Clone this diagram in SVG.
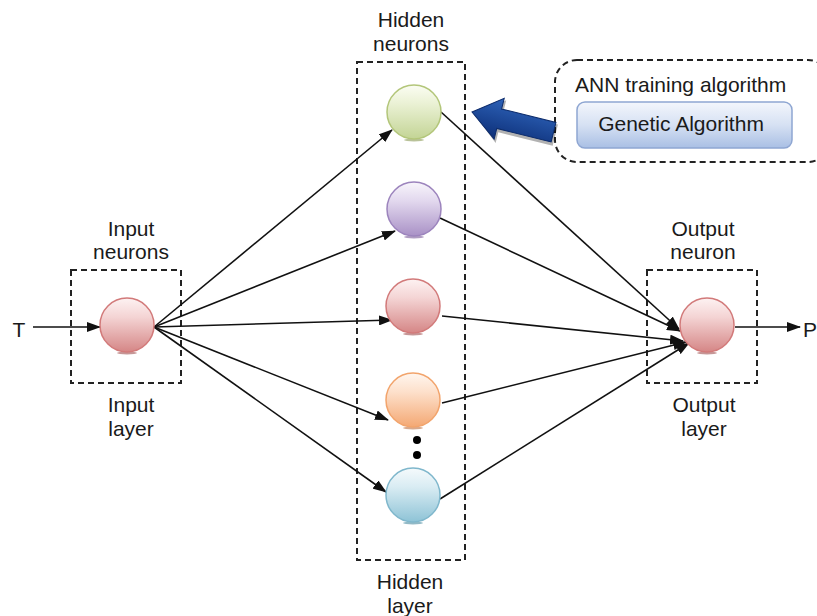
<svg xmlns="http://www.w3.org/2000/svg" width="817" height="616" viewBox="0 0 817 616">
<style>
.lbl{font-family:"Liberation Sans",Arial,sans-serif;font-size:21px;fill:#1a1a1a;text-anchor:middle}
.box{fill:none;stroke:#222;stroke-width:2;stroke-dasharray:6,4}
.con{stroke:#111;stroke-width:1.6;fill:none;marker-end:url(#ah)}
</style>
<defs>
<marker id="ah" markerUnits="userSpaceOnUse" markerWidth="14" markerHeight="10" refX="13" refY="5" orient="auto">
<path d="M0,0 L14,5 L0,10 z" fill="#111"/>
</marker>
<linearGradient id="gRed" x1="0" y1="0" x2="0" y2="1"><stop offset="0" stop-color="#fdf2f2"/><stop offset="0.35" stop-color="#f4d4d4"/><stop offset="1" stop-color="#d58686"/></linearGradient>
<linearGradient id="gGreen" x1="0" y1="0" x2="0" y2="1"><stop offset="0" stop-color="#fbfdf3"/><stop offset="0.35" stop-color="#eaf1d4"/><stop offset="1" stop-color="#c3d495"/></linearGradient>
<linearGradient id="gPurple" x1="0" y1="0" x2="0" y2="1"><stop offset="0" stop-color="#f8f5fb"/><stop offset="0.35" stop-color="#e2d8ee"/><stop offset="1" stop-color="#a991c6"/></linearGradient>
<linearGradient id="gOrange" x1="0" y1="0" x2="0" y2="1"><stop offset="0" stop-color="#fff6ef"/><stop offset="0.35" stop-color="#fde0cb"/><stop offset="1" stop-color="#f4a873"/></linearGradient>
<linearGradient id="gBlue" x1="0" y1="0" x2="0" y2="1"><stop offset="0" stop-color="#f5fafc"/><stop offset="0.35" stop-color="#d9ecf3"/><stop offset="1" stop-color="#8ec3d6"/></linearGradient>
<linearGradient id="gBtn" x1="0" y1="0" x2="0" y2="1"><stop offset="0" stop-color="#f3f6fc"/><stop offset="0.5" stop-color="#d6e1f3"/><stop offset="1" stop-color="#a9bfe4"/></linearGradient>
<linearGradient id="gArrow" x1="0" y1="0" x2="0" y2="1"><stop offset="0" stop-color="#2d62b8"/><stop offset="1" stop-color="#0d2f78"/></linearGradient>
</defs>

<g id="layer-boxes">
<rect class="box" x="71" y="270" width="110" height="113"/>
<rect class="box" x="357" y="62" width="108" height="498"/>
<rect class="box" x="647" y="270" width="110" height="113"/>
</g>

<g id="connectors">
<line class="con" x1="33" y1="327" x2="100" y2="327"/>
<line class="con" x1="154" y1="327" x2="392" y2="130"/>
<line class="con" x1="154" y1="327" x2="395" y2="231"/>
<line class="con" x1="154" y1="327" x2="392" y2="320"/>
<line class="con" x1="154" y1="327" x2="388" y2="420"/>
<line class="con" x1="154" y1="327" x2="386" y2="492"/>
<line class="con" x1="441" y1="112" x2="679" y2="329"/>
<line class="con" x1="440" y1="218" x2="680" y2="331"/>
<line class="con" x1="442" y1="316" x2="683" y2="341"/>
<line class="con" x1="442" y1="403" x2="686" y2="342"/>
<line class="con" x1="440" y1="499" x2="689" y2="343"/>
<line class="con" x1="735" y1="327" x2="800" y2="327"/>
</g>

<g id="input-neuron">
<ellipse cx="127" cy="353" rx="10" ry="1.5" fill="#a05050" opacity="0.6"/>
<circle cx="127" cy="325" r="27" fill="url(#gRed)" stroke="#d27a7a" stroke-width="1.5"/>
</g>
<g id="hidden-neuron-1">
<ellipse cx="414" cy="140" rx="10" ry="1.5" fill="#8a9a55" opacity="0.6"/>
<circle cx="414" cy="112" r="27" fill="url(#gGreen)" stroke="#b3c67a" stroke-width="1.5"/>
</g>
<g id="hidden-neuron-2">
<ellipse cx="414" cy="237" rx="10" ry="1.5" fill="#7a5a9a" opacity="0.6"/>
<circle cx="414" cy="209" r="27" fill="url(#gPurple)" stroke="#9c84bd" stroke-width="1.5"/>
</g>
<g id="hidden-neuron-3">
<ellipse cx="413" cy="334" rx="10" ry="1.5" fill="#a05050" opacity="0.6"/>
<circle cx="413" cy="306" r="27" fill="url(#gRed)" stroke="#d27a7a" stroke-width="1.5"/>
</g>
<g id="hidden-neuron-4">
<ellipse cx="413" cy="428" rx="10" ry="1.5" fill="#c07040" opacity="0.6"/>
<circle cx="413" cy="400" r="27" fill="url(#gOrange)" stroke="#f2a46c" stroke-width="1.5"/>
</g>
<g id="hidden-dots">
<circle cx="417" cy="440" r="4" fill="#000"/>
<circle cx="417" cy="455" r="4" fill="#000"/>
</g>
<g id="hidden-neuron-5">
<ellipse cx="413" cy="523" rx="10" ry="1.5" fill="#4a8aa0" opacity="0.6"/>
<circle cx="413" cy="495" r="27" fill="url(#gBlue)" stroke="#7fb7cc" stroke-width="1.5"/>
</g>
<g id="output-neuron">
<ellipse cx="707" cy="353" rx="10" ry="1.5" fill="#a05050" opacity="0.6"/>
<circle cx="707" cy="325" r="27" fill="url(#gRed)" stroke="#d27a7a" stroke-width="1.5"/>
</g>

<g id="training-algorithm">
<rect x="555" y="60" width="275" height="102" rx="22" fill="none" stroke="#222" stroke-width="2" stroke-dasharray="6,4"/>
<text class="lbl" x="575" y="92" style="text-anchor:start">ANN training algorithm</text>
<rect x="577" y="102" width="215" height="46" rx="8" fill="url(#gBtn)" stroke="#8ea6d2" stroke-width="1.5"/>
<text class="lbl" x="681" y="131">Genetic Algorithm</text>
</g>

<g id="training-arrow">
<polygon transform="translate(474,114) rotate(13.9)" points="0,0 28,-21 28,-10 84,-10 84,12 28,12 28,23" fill="#000" opacity="0.3"/>
<polygon transform="translate(472,112) rotate(13.9)" points="0,0 28,-21 28,-10 84,-10 84,10 28,10 28,21" fill="url(#gArrow)" stroke="#0b2a6a" stroke-width="1"/>
</g>

<g id="labels">
<text class="lbl" x="19" y="337">T</text>
<text class="lbl" x="803" y="337" style="text-anchor:start">P</text>
<text class="lbl" x="411" y="27">Hidden</text>
<text class="lbl" x="411" y="51">neurons</text>
<text class="lbl" x="131" y="236">Input</text>
<text class="lbl" x="131" y="259">neurons</text>
<text class="lbl" x="131" y="412">Input</text>
<text class="lbl" x="131" y="436">layer</text>
<text class="lbl" x="703" y="236">Output</text>
<text class="lbl" x="703" y="259">neuron</text>
<text class="lbl" x="704" y="412">Output</text>
<text class="lbl" x="704" y="436">layer</text>
<text class="lbl" x="410" y="589">Hidden</text>
<text class="lbl" x="410" y="613">layer</text>
</g>
</svg>
